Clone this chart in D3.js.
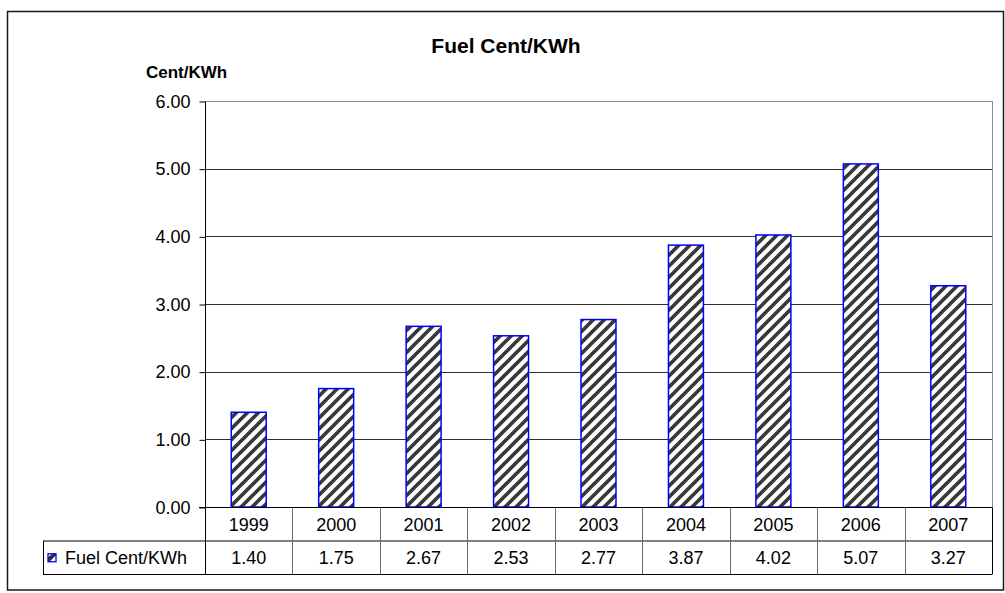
<!DOCTYPE html>
<html>
<head>
<meta charset="utf-8">
<script src="https://cdn.jsdelivr.net/npm/d3@7"></script>
<style>
  html, body { margin: 0; padding: 0; background: #fff; }
  svg { display: block; font-family: "Liberation Sans", Arial, sans-serif; }
</style>
</head>
<body>
<svg id="chart" width="1005" height="593"></svg>
<script>
// Fuel cost per kWh by year
const years = ["1999", "2000", "2001", "2002", "2003", "2004", "2005", "2006", "2007"];
const fuelCents = [1.40, 1.75, 2.67, 2.53, 2.77, 3.87, 4.02, 5.07, 3.27];
const yTicks = [0, 1, 2, 3, 4, 5, 6];
const seriesName = "Fuel Cent/KWh";
const chartTitle = "Fuel Cent/KWh";
const yAxisTitle = "Cent/KWh";

const svg = d3.select("#chart");

// Plot area geometry
const plot = { left: 205, right: 992, top: 101, bottom: 507 };
const rowH = 33.5;
const legendLeft = 43;

const x = d3.scaleBand()
  .domain(years)
  .range([plot.left, plot.right])
  .paddingInner(0.6)
  .paddingOuter(0.3);

const y = d3.scaleLinear()
  .domain([0, 6])
  .range([plot.bottom, plot.top]);

const step = x.step();

// Hatch pattern for the bars
const defs = svg.append("defs");
const pat = defs.append("pattern")
  .attr("id", "hatch")
  .attr("patternUnits", "userSpaceOnUse")
  .attr("width", 11)
  .attr("height", 11);
pat.append("rect").attr("width", 11).attr("height", 11).attr("fill", "#fff");
pat.append("path")
  .attr("d", "M-3,3 L3,-3 M0,11 L11,0 M8,14 L14,8")
  .attr("stroke", "#383838")
  .attr("stroke-width", 3.7);

// Outer chart frame
svg.append("rect")
  .attr("x", 7.5).attr("y", 11.5)
  .attr("width", 996).attr("height", 578.5)
  .attr("fill", "#fff")
  .attr("stroke", "#1a1a1a")
  .attr("stroke-width", 1.5);

// Plot area border
svg.append("rect")
  .attr("x", plot.left + 0.5).attr("y", plot.top + 0.5)
  .attr("width", plot.right - plot.left).attr("height", plot.bottom - plot.top)
  .attr("fill", "none")
  .attr("stroke", "#8c8c8c")
  .attr("stroke-width", 1);

// Gridlines
svg.append("g")
  .selectAll("line")
  .data(yTicks.filter(d => d > 0))
  .join("line")
  .attr("x1", plot.left).attr("x2", plot.right)
  .attr("y1", d => Math.round(y(d)) + 0.5)
  .attr("y2", d => Math.round(y(d)) + 0.5)
  .attr("stroke", d => d === 6 ? "#8c8c8c" : "#303030")
  .attr("stroke-width", 1);

// Bars
svg.append("g")
  .selectAll("rect")
  .data(fuelCents)
  .join("rect")
  .attr("x", (d, i) => x(years[i]))
  .attr("y", d => y(d))
  .attr("width", x.bandwidth())
  .attr("height", d => y(0) - y(d))
  .attr("fill", "url(#hatch)")
  .attr("stroke", "#0000ff")
  .attr("stroke-width", 1.5);

// Value axis
const yAxis = d3.axisLeft(y)
  .tickValues(yTicks)
  .tickFormat(d3.format(".2f"))
  .tickSize(6)
  .tickPadding(9);

const gy = svg.append("g")
  .attr("transform", `translate(${plot.left + 0.5},0.5)`)
  .call(yAxis);
gy.select(".domain").attr("stroke", "#000").attr("d", `M0,${plot.top}V${plot.bottom + rowH}`);
gy.selectAll(".tick line").attr("stroke", "#000");
gy.selectAll(".tick text")
  .attr("font-size", 18)
  .attr("fill", "#000")
  .attr("font-family", "Liberation Sans, Arial, sans-serif");

// Data table beneath the plot
const table = svg.append("g");
const row1Top = plot.bottom + 0.5;
const row2Top = plot.bottom + rowH + 0.5;
const row2Bottom = plot.bottom + 2 * rowH + 0.5;

// horizontal rules
table.append("line")
  .attr("x1", plot.left - 6).attr("x2", plot.right)
  .attr("y1", row1Top).attr("y2", row1Top)
  .attr("stroke", "#000").attr("stroke-width", 1.2);
table.append("line")
  .attr("x1", legendLeft).attr("x2", plot.right)
  .attr("y1", row2Top).attr("y2", row2Top)
  .attr("stroke", "#000").attr("stroke-width", 1);
table.append("line")
  .attr("x1", legendLeft).attr("x2", plot.right)
  .attr("y1", row2Bottom).attr("y2", row2Bottom)
  .attr("stroke", "#000").attr("stroke-width", 1);

// left and right edges
table.append("line")
  .attr("x1", legendLeft + 0.5).attr("x2", legendLeft + 0.5)
  .attr("y1", row2Top).attr("y2", row2Bottom)
  .attr("stroke", "#000");
table.append("line")
  .attr("x1", plot.left + 0.5).attr("x2", plot.left + 0.5)
  .attr("y1", row2Top).attr("y2", row2Bottom)
  .attr("stroke", "#000");
table.append("line")
  .attr("x1", plot.right + 0.5).attr("x2", plot.right + 0.5)
  .attr("y1", row1Top).attr("y2", row2Bottom)
  .attr("stroke", "#000");

// column separators between categories
table.append("g")
  .selectAll("line")
  .data(years.slice(1))
  .join("line")
  .attr("x1", d => Math.round(x(d) - (step - x.bandwidth()) / 2) + 0.5)
  .attr("x2", d => Math.round(x(d) - (step - x.bandwidth()) / 2) + 0.5)
  .attr("y1", row1Top).attr("y2", row2Bottom)
  .attr("stroke", "#6a6a6a").attr("stroke-width", 1);

// year labels
table.append("g")
  .selectAll("text")
  .data(years)
  .join("text")
  .attr("x", d => x(d) + x.bandwidth() / 2)
  .attr("y", row1Top + rowH / 2)
  .attr("dy", "0.35em")
  .attr("text-anchor", "middle")
  .attr("font-size", 18)
  .text(d => d);

// value labels
table.append("g")
  .selectAll("text")
  .data(fuelCents)
  .join("text")
  .attr("x", (d, i) => x(years[i]) + x.bandwidth() / 2)
  .attr("y", row2Top + rowH / 2)
  .attr("dy", "0.35em")
  .attr("text-anchor", "middle")
  .attr("font-size", 18)
  .text(d => d3.format(".2f")(d));

// legend key and series name
const keyX = 48, keyY = row2Top + rowH / 2 - 4, keyS = 8;
table.append("rect")
  .attr("x", keyX).attr("y", keyY)
  .attr("width", keyS).attr("height", keyS)
  .attr("fill", "#fff");
table.append("path")
  .attr("d", `M${keyX},${keyY + keyS}L${keyX},${keyY + keyS * 0.45}L${keyX + keyS * 0.55},${keyY}L${keyX + keyS},${keyY}L${keyX + keyS},${keyY + keyS * 0.2}L${keyX + keyS * 0.2},${keyY + keyS}Z`)
  .attr("fill", "#2e2e2e");
table.append("rect")
  .attr("x", keyX).attr("y", keyY)
  .attr("width", keyS).attr("height", keyS)
  .attr("fill", "none")
  .attr("stroke", "#0000ff").attr("stroke-width", 1.3);
table.append("text")
  .attr("x", 65)
  .attr("y", row2Top + rowH / 2)
  .attr("dy", "0.35em")
  .attr("font-size", 18)
  .text(seriesName);

// Titles
svg.append("text")
  .attr("x", 506).attr("y", 53)
  .attr("text-anchor", "middle")
  .attr("font-size", 21)
  .attr("font-weight", "bold")
  .text(chartTitle);

svg.append("text")
  .attr("x", 146).attr("y", 78)
  .attr("font-size", 17)
  .attr("font-weight", "bold")
  .text(yAxisTitle);
</script>
</body>
</html>
